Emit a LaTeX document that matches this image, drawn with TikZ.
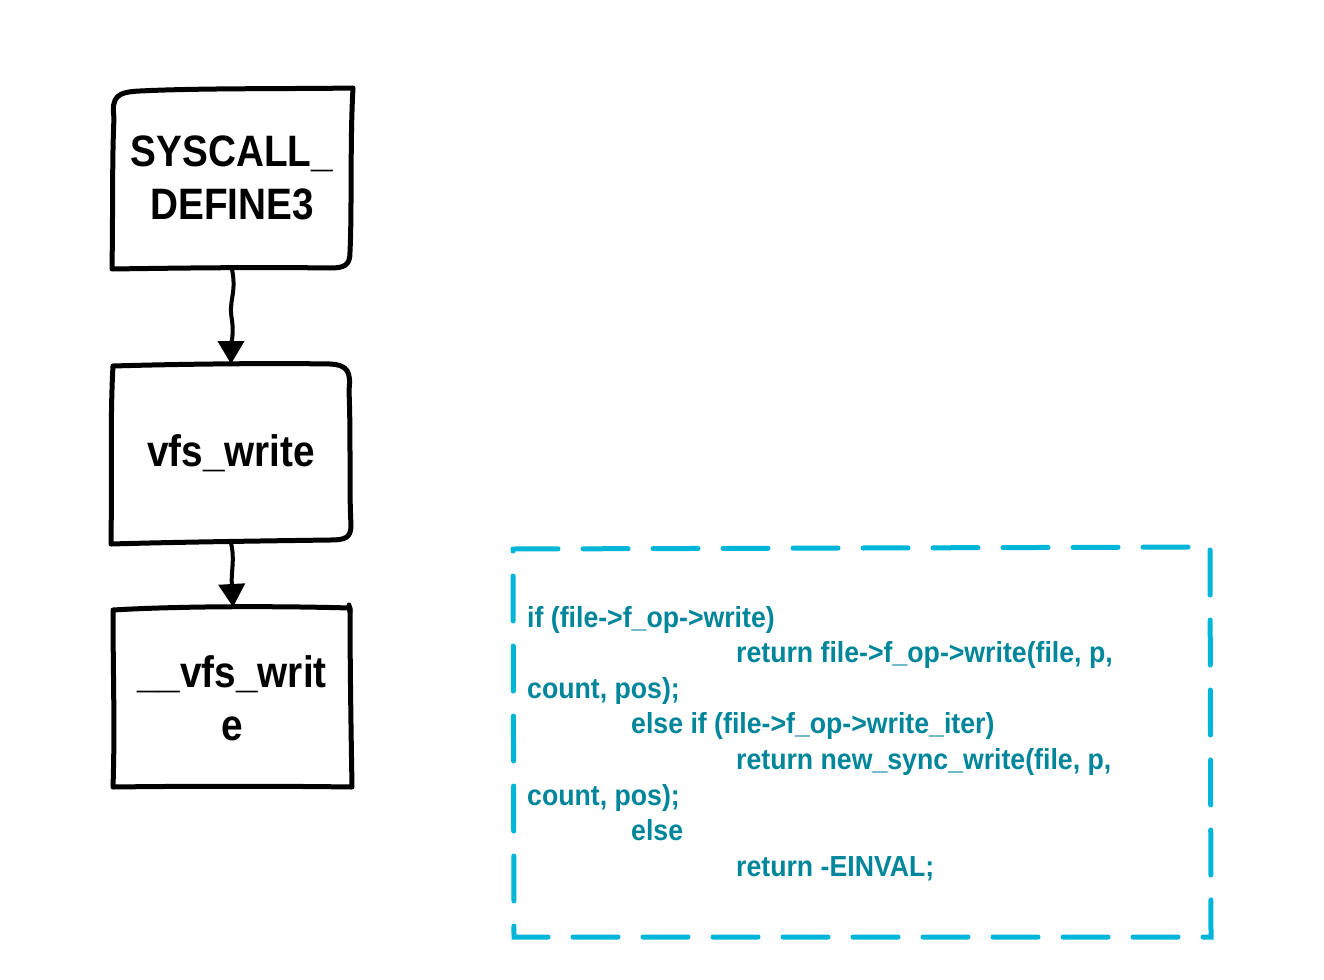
\documentclass[tikz,border=0pt]{standalone}
\usepackage{fontspec}
\setmainfont{Liberation Sans}
\newfontfamily\boxfont[FakeStretch=0.88]{Liberation Sans}
\newfontfamily\codefont[FakeStretch=0.92]{Liberation Sans}
\usetikzlibrary{arrows.meta}
\definecolor{codetxt}{RGB}{0,134,155}
\definecolor{dashc}{RGB}{0,182,216}
\tikzset{
  sketch/.style={line width=5pt, line cap=round, line join=round, black},
  boxtext/.style={font=\boxfont\fontsize{44}{53}\selectfont\bfseries, align=center, inner sep=0pt},
  codeline/.style={font=\codefont\fontsize{29}{35.6}\selectfont\bfseries, text=codetxt, anchor=base west, inner sep=0pt},
  conn/.style={line width=4pt, -{Triangle[length=23pt,width=26pt]}},
  codebox/.style={line width=5pt, dashc, dash pattern=on 45pt off 25pt, line cap=round}
}
\begin{document}
\begin{tikzpicture}[x=1pt,y=-1pt]
\useasboundingbox (0,0) rectangle (1324,979);
\fill[white] (0,0) rectangle (1324,979);
% box 1
\draw[sketch] (114,118) .. controls (111,96) and (118,92) .. (140,91)
  .. controls (200,88) and (290,89) .. (353,88)
  .. controls (350,140) and (352,210) .. (350,252)
  .. controls (350,265) and (345,268) .. (330,268)
  .. controls (260,267) and (180,268) .. (112,269)
  .. controls (113,210) and (112,160) .. (114,118) -- cycle;
\node[boxtext] (sys) at (232,178) {SYSCALL\_\\DEFINE3};
\coordinate (sysb) at (232,269);
% box 2
\draw[sketch] (113,366) .. controls (180,364) and (270,363) .. (330,364)
  .. controls (348,365) and (351,372) .. (349,390)
  .. controls (351,440) and (349,490) .. (351,525)
  .. controls (351,538) and (345,540) .. (330,540)
  .. controls (260,541) and (180,542) .. (111,544)
  .. controls (112,480) and (110,420) .. (113,366) -- cycle;
\node[boxtext] (vfs) at (231,453) {vfs\_write};
\coordinate (vfst) at (231,364);
\coordinate (vfsb) at (231,543);
% box 3
\draw[sketch] (113,610) .. controls (180,606) and (280,606) .. (350,608)
  .. controls (350,660) and (351,730) .. (352,787)
  .. controls (280,786) and (190,786) .. (113,787)
  .. controls (115,730) and (113,670) .. (113,610) -- cycle;
\draw[sketch] (349,605) -- (350,612);
\node[boxtext] (uvfs) at (232,698) {\_\_vfs\_writ\\e};
\coordinate (uvfst) at (233,607);
% connectors
\draw[conn] (sysb) .. controls (237,295) and (228,300) .. (232,320) .. controls (234,335) and (231,345) .. (vfst);
\draw[conn] (vfsb) .. controls (235,560) and (231,570) .. (uvfst);
% code box
\draw[codebox] (513,549) -- (1210,547) -- (1211,937) -- (514,937) -- cycle;
\node[codeline] (c1) at (527,627) {if (file->f\_op->write)};
\node[codeline] (c2) at (736,662.6) {return file->f\_op->write(file, p,};
\node[codeline] (c3) at (527,698.2) {count, pos);};
\node[codeline] (c4) at (631,733.8) {else if (file->f\_op->write\_iter)};
\node[codeline] (c5) at (736,769.4) {return new\_sync\_write(file, p,};
\node[codeline] (c6) at (527,805) {count, pos);};
\node[codeline] (c7) at (631,840.6) {else};
\node[codeline] (c8) at (736,876.2) {return -EINVAL;};
\end{tikzpicture}
\end{document}
